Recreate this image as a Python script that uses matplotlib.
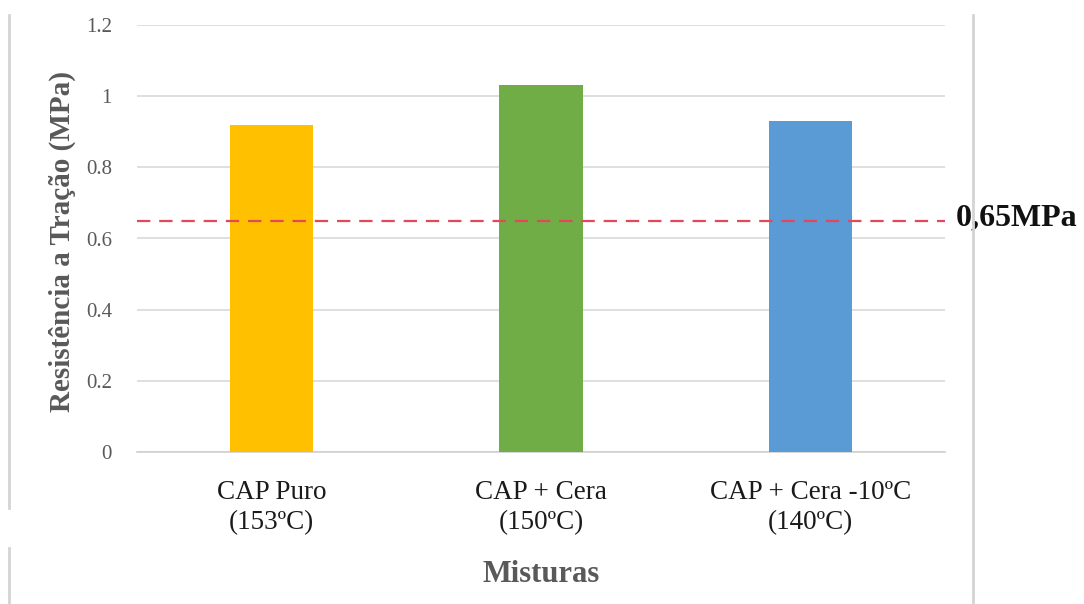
import matplotlib
matplotlib.use("Agg")
import matplotlib.pyplot as plt
from matplotlib.lines import Line2D

# bar data
categorias = ["CAP Puro\n(153ºC)", "CAP + Cera\n(150ºC)", "CAP + Cera -10ºC\n(140ºC)"]
resistencia = [0.92, 1.03, 0.93]
cores = ["#FFC000", "#70AD47", "#5B9BD5"]
limite = 0.65
limite_rotulo = "0,65MPa"
y_ticks = [0, 0.2, 0.4, 0.6, 0.8, 1.0, 1.2]
y_tick_labels = ["0", "0.2", "0.4", "0.6", "0.8", "1", "1.2"]

serif = ["Liberation Serif", "DejaVu Serif"]
cinza = "#595959"

fig = plt.figure(figsize=(10.84, 6.04), dpi=100)
ax = fig.add_axes([137 / 1084, 1 - 452 / 604, (945 - 137) / 1084, (452 - 25) / 604])

x = range(len(categorias))
ax.bar(x, resistencia, width=0.31, color=cores, zorder=3)
ax.set_xlim(-0.5, len(categorias) - 0.5)
ax.set_ylim(0, 1.2)

ax.set_yticks(y_ticks)
ax.set_yticklabels(y_tick_labels, family=serif, fontsize=15, color=cinza)
ax.set_xticks(list(x))
ax.set_xticklabels(categorias, family=serif, fontsize=19.5, color="#1a1a1a",
                   linespacing=1.3)
ax.tick_params(axis="y", length=0, pad=18)
ax.tick_params(axis="x", length=0, pad=20)

ax.grid(axis="y", color="#d9d9d9", linewidth=1.2, zorder=0)
for s in ("top", "right", "left"):
    ax.spines[s].set_visible(False)
ax.spines["bottom"].set_color("#d0d0d0")
ax.spines["bottom"].set_linewidth(1.2)

# reference limit
ax.axhline(limite, color="#e2485a", linestyle=(0, (6, 4)), linewidth=1.6, zorder=4)

fig.text(62 / 1084, 1 - 242 / 604, "Resistência a Tração (MPa)", rotation=90,
         ha="center", va="center", family=serif, fontsize=21,
         fontweight="bold", color=cinza)
fig.text(541 / 1084, 1 - 575 / 604, "Misturas", ha="center", va="center",
         family=serif, fontsize=22, fontweight="bold", color=cinza)

# chart frame edges
borda = dict(color="#d4d4d4", linewidth=2, transform=fig.transFigure, zorder=1)
fig.add_artist(Line2D([9 / 1084] * 2, [1 - 15 / 604, 1 - 508 / 604], **borda))
fig.add_artist(Line2D([9 / 1084] * 2, [1 - 548 / 604, 0], **borda))
fig.add_artist(Line2D([973 / 1084] * 2, [1 - 15 / 604, 0], **borda))

ax.annotate(limite_rotulo, xy=(1, limite), xycoords=("axes fraction", "data"),
            xytext=(8, 2), textcoords="offset points", va="center", ha="left",
            family=serif, fontsize=23, fontweight="bold", color="#111111",
            bbox=dict(facecolor="white", edgecolor="none", pad=1),
            annotation_clip=False, zorder=10)

fig.savefig("out.png", dpi=100)
plt.close(fig)
